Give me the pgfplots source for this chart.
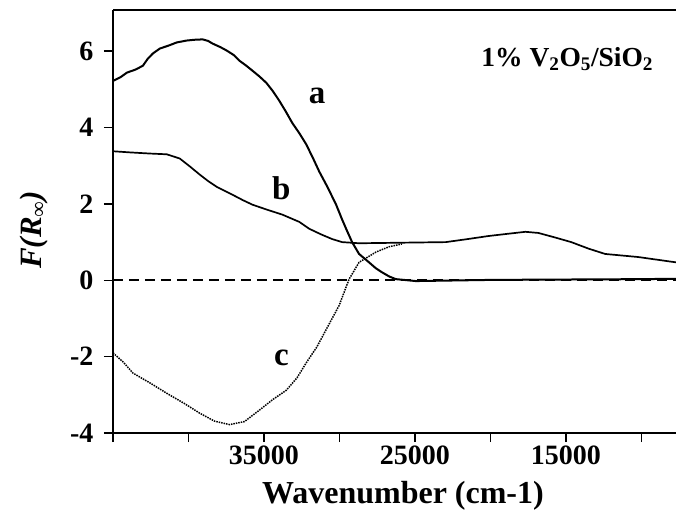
\documentclass[border=0pt]{standalone}
\usepackage{fontspec}
\setmainfont{Liberation Serif}
\usepackage{pgfplots}
\usepackage{pgfplotstable}
\pgfplotsset{compat=1.18}
\usetikzlibrary{calc}

% curve a (solid)
\pgfplotstableread{
x y
45000 5.22
44500 5.32
44076 5.44
43500 5.52
43020 5.62
42700 5.80
42360 5.94
41898 6.07
41300 6.15
40776 6.23
40116 6.28
39600 6.30
39060 6.31
38700 6.27
38400 6.20
37900 6.11
37476 6.02
37000 5.90
36618 5.75
36200 5.63
35760 5.49
35300 5.34
34836 5.17
34400 4.95
33978 4.70
33550 4.42
33120 4.12
32650 3.85
32196 3.56
31750 3.20
31338 2.85
30800 2.45
30216 1.98
29850 1.62
29556 1.35
29160 1.00
28698 0.69
28038 0.47
27600 0.32
27180 0.21
26700 0.10
26256 0.03
24936 -0.02
20000 0.01
15000 0.02
10000 0.03
7700 0.04
}\curvea

% curve b (solid)
\pgfplotstableread{
x y
45000 3.38
43878 3.35
42558 3.32
41436 3.30
40578 3.19
39900 2.98
39258 2.77
38700 2.60
38136 2.45
37080 2.24
36400 2.10
35760 1.98
34800 1.85
33780 1.72
32658 1.53
32000 1.35
31200 1.20
30480 1.08
29820 1.00
28698 0.97
22956 1.00
21500 1.08
20118 1.16
18800 1.22
17676 1.27
16818 1.24
15700 1.12
14640 1.00
13500 0.83
12396 0.69
10218 0.61
7700 0.47
}\curveb

% curve c (dotted)
\pgfplotstableread{
x y
45000 -1.90
44300 -2.15
43680 -2.43
42500 -2.70
41436 -2.96
40300 -3.22
39258 -3.48
38268 -3.69
37278 -3.78
36288 -3.70
35298 -3.40
34400 -3.12
33516 -2.88
32800 -2.55
32196 -2.16
31500 -1.75
30876 -1.29
30018 -0.66
29358 0.03
28698 0.47
27576 0.74
26700 0.88
25860 0.95
}\curvec

\begin{document}
\begin{tikzpicture}
\begin{axis}[
  name=ax,
  scale only axis,
  width=563pt, height=423pt,
  x dir=reverse,
  xmin=7700, xmax=45000,
  ymin=-4, ymax=7.08,
  axis x line*=bottom,
  axis y line*=left,
  axis line style={line width=1.5pt},
  xtick={10000,15000,...,45000},
  xticklabels={,15000,,25000,,35000,,},
  scaled x ticks=false,
  ytick={-4,-2,0,2,4,6},
  tick align=outside,
  major tick length=9pt,
  every tick/.style={black, line width=1.5pt},
  tick label style={font=\fontsize{28}{28}\selectfont\bfseries},
  yticklabel style={xshift=-7pt},
  /pgf/number format/assume math mode=true,
  /pgf/number format/1000 sep={},
  xlabel={Wavenumber (cm-1)},
  xlabel style={font=\fontsize{32}{32}\selectfont\bfseries,
    at={(axis description cs:0.515,-0.105)}, anchor=north},
  ylabel={\textbf{\textit{F(R\textsubscript{∞})}}},
  ylabel style={font=\fontsize{31}{31}\selectfont,
    at={(axis description cs:-0.14,0.48)}, anchor=center},
  clip=true,
]
\addplot[black, line width=1.6pt, dash pattern=on 10pt off 6pt] coordinates {(45000,0) (7700,0)};
\addplot[black, line width=2pt] table {\curvea};
\addplot[black, line width=1.7pt] table {\curveb};
\addplot[black, line width=1.5pt, densely dotted] table {\curvec};

\node[font=\fontsize{33}{33}\selectfont\bfseries] at (axis cs:31470,4.83) {a};
\node[font=\fontsize{33}{33}\selectfont\bfseries] at (axis cs:33846,2.40) {b};
\node[font=\fontsize{33}{33}\selectfont\bfseries] at (axis cs:33846,-2.03) {c};
\node[font=\fontsize{27.5}{27.5}\selectfont\bfseries] at (axis cs:14904,5.80)
  {1\% V\textsubscript{2}O\textsubscript{5}/SiO\textsubscript{2}};
\end{axis}
\draw[line width=1.5pt] (ax.north west) -- (ax.north east);
\pgfresetboundingbox
\path[use as bounding box] ($(ax.south west)+(-113pt,-87pt)$) rectangle ($(ax.north east)+(0,10pt)$);
\end{tikzpicture}
\end{document}
